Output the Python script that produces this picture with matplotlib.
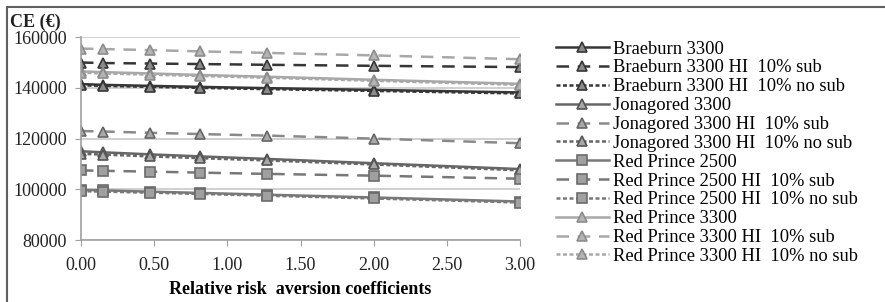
import numpy as np
import matplotlib
matplotlib.use("Agg")
import matplotlib.pyplot as plt
from matplotlib.patches import Rectangle

# relative risk aversion coefficients (x) and certainty equivalents (CE, euro)
rra = [0.00, 0.15, 0.47, 0.81, 1.27, 2.00, 3.00]

braeburn = [141500, 141200, 140800, 140400, 139900, 139200, 138200]
braeburn_sub = [150000, 149800, 149600, 149400, 149100, 148700, 148200]
braeburn_nosub = [141000, 140800, 140400, 140000, 139500, 138800, 137800]
jonagored = [115000, 114600, 113800, 113000, 112000, 110300, 108000]
jonagored_sub = [123000, 122800, 122300, 121800, 121200, 120000, 118200]
jonagored_nosub = [114000, 113700, 113000, 112300, 111400, 109800, 107500]
rp2500 = [99800, 99600, 99100, 98600, 97900, 96800, 95200]
rp2500_sub = [107500, 107300, 107000, 106600, 106100, 105400, 104200]
rp2500_nosub = [99300, 99100, 98700, 98200, 97500, 96400, 94800]
rp3300 = [146500, 146200, 145700, 145100, 144400, 143200, 141600]
rp3300_sub = [155500, 155300, 154900, 154400, 153800, 152800, 151300]
rp3300_nosub = [146000, 145700, 145200, 144700, 144000, 142800, 141200]

xticks = [0.0, 0.5, 1.0, 1.5, 2.0, 2.5, 3.0]
yticks = [80000, 100000, 120000, 140000, 160000]

plt.rcParams['font.family'] = ['Liberation Serif', 'DejaVu Serif']

fig = plt.figure(figsize=(8.85, 3.02), dpi=100)
ax = fig.add_axes([0.0915, 0.205, 0.4961, 0.672])

solid = '-'
dash = (0, (5, 3.5))
dot = (0, (1.6, 1.0))

# (values, label, line colour, marker face, marker edge, marker, style)
series = [
    (braeburn, 'Braeburn 3300', '#363636', '#8a8a8a', '#363636', '^', solid),
    (braeburn_sub, 'Braeburn 3300 HI  10% sub', '#363636', '#8a8a8a', '#363636', '^', dash),
    (braeburn_nosub, 'Braeburn 3300 HI  10% no sub', '#363636', '#8a8a8a', '#363636', '^', dot),
    (jonagored, 'Jonagored 3300', '#666666', '#a8a8a8', '#555555', '^', solid),
    (jonagored_sub, 'Jonagored 3300 HI  10% sub', '#8a8a8a', '#a8a8a8', '#666666', '^', dash),
    (jonagored_nosub, 'Jonagored 3300 HI  10% no sub', '#666666', '#a8a8a8', '#555555', '^', dot),
    (rp2500, 'Red Prince 2500', '#787878', '#a0a0a0', '#6c6c6c', 's', solid),
    (rp2500_sub, 'Red Prince 2500 HI  10% sub', '#787878', '#a0a0a0', '#6c6c6c', 's', dash),
    (rp2500_nosub, 'Red Prince 2500 HI  10% no sub', '#787878', '#a0a0a0', '#6c6c6c', 's', dot),
    (rp3300, 'Red Prince 3300', '#a8a8a8', '#b4b4b4', '#8c8c8c', '^', solid),
    (rp3300_sub, 'Red Prince 3300 HI  10% sub', '#a8a8a8', '#b4b4b4', '#8c8c8c', '^', dash),
    (rp3300_nosub, 'Red Prince 3300 HI  10% no sub', '#a8a8a8', '#b4b4b4', '#8c8c8c', '^', dot),
]

for vals, lab, lc, mf, me, mk, ls in series:
    ax.plot(rra, vals, color=lc, linestyle=ls, linewidth=1.8, marker=mk,
            markersize=7, markerfacecolor=mf, markeredgecolor=me,
            markeredgewidth=1.2, label=lab)

ax.set_xlim(0, 3)
ax.set_ylim(80000, 160000)
ax.set_xticks(xticks)
ax.set_xticklabels(['%.2f' % v for v in xticks])
ax.set_yticks(yticks)
ax.set_yticklabels([str(v) for v in yticks])
ax.grid(axis='y', color='#c8c8c8', linewidth=1.2)
ax.set_axisbelow(True)
for s in ['top', 'right']:
    ax.spines[s].set_visible(False)
for s in ['left', 'bottom']:
    ax.spines[s].set_color('#a0a0a0')
    ax.spines[s].set_linewidth(1.2)
ax.tick_params(direction='out', length=4, color='#a0a0a0', labelsize=13,
               labelcolor='#222222', pad=6)
ax.tick_params(axis='x', pad=8)

ax.set_xlabel('Relative risk  aversion coefficients', fontsize=13,
              fontweight='bold', labelpad=5)
fig.text(0.011, 0.925, 'CE (€)', fontsize=13, fontweight='bold',
         ha='left', va='center', color='#222222')

fig.legend(loc='upper left', bbox_to_anchor=(0.62, 0.89), frameon=False,
           fontsize=13.3, handlelength=2.85, handletextpad=0.25,
           labelspacing=0.1, borderaxespad=0)

# box around the figure panel
fig.patches.append(Rectangle((7 / 885, -0.1), 1.0, 1.1 - 7 / 302,
                             transform=fig.transFigure, fill=False,
                             edgecolor='#606060', linewidth=1.5))

fig.savefig('out.png', dpi=100)
